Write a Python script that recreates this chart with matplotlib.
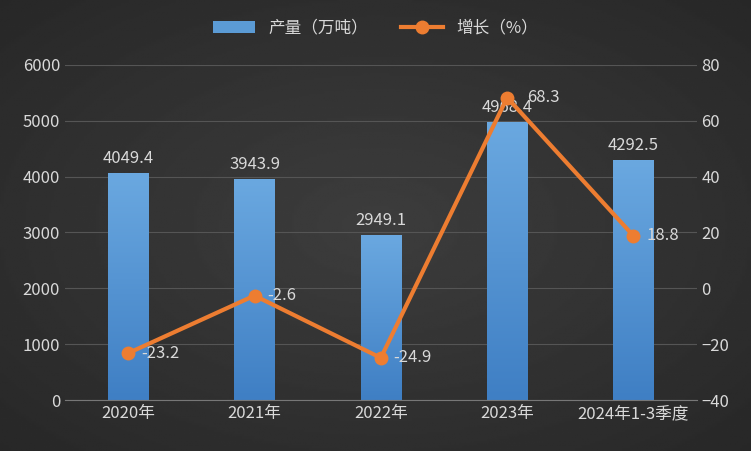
import matplotlib
matplotlib.use("Agg")
import matplotlib.pyplot as plt
import numpy as np

plt.rcParams['font.family'] = ['Noto Sans CJK SC', 'DejaVu Sans']

categories = ["2020年", "2021年", "2022年", "2023年", "2024年1-3季度"]
output = [4049.4, 3943.9, 2949.1, 4968.4, 4292.5]
growth = [-23.2, -2.6, -24.9, 68.3, 18.8]

txt = '#d9d9d9'
fig = plt.figure(figsize=(7.51, 4.51), dpi=100)
bg = fig.add_axes([0, 0, 1, 1], zorder=-10)
yy, xx = np.mgrid[-1:1:200j, -1:1:300j]
r = np.sqrt(xx**2 + yy**2)
bg.imshow(0.24 - 0.06 * r, cmap='gray', vmin=0, vmax=1, aspect='auto', extent=[0, 1, 0, 1])
bg.axis('off')

ax = fig.add_axes([0.0866, 0.113, 0.841, 0.743])
ax.patch.set_alpha(0)
x = np.arange(len(categories))
bars = ax.bar(x, output, width=0.32, color='#5b9bd5', label='产量（万吨）', zorder=2)
for b in bars:
    bx, bw, bh = b.get_x(), b.get_width(), b.get_height()
    grad = np.linspace(1, 0, 100).reshape(-1, 1)
    ax.imshow(grad, cmap=matplotlib.colors.LinearSegmentedColormap.from_list('g', ['#3f7fc4', '#6aa8e0']),
              extent=[bx, bx + bw, 0, bh], aspect='auto', zorder=2.1)
for xi, v in zip(x, output):
    ax.text(xi, v + 120, f"{v}", ha='center', va='bottom', color=txt, fontsize=12, zorder=5)
ax.set_xlim(-0.5, len(categories) - 0.5)
ax.set_ylim(0, 6000)
ax.set_yticks(range(0, 6001, 1000))
ax.set_xticks(x)
ax.set_xticklabels(categories)
ax.grid(axis='y', color='#555555', lw=0.8, zorder=0)
for s in ax.spines.values():
    s.set_visible(False)
ax.spines['bottom'].set_visible(True)
ax.spines['bottom'].set_color('#777777')
ax.tick_params(colors=txt, labelsize=12, length=0)

ax2 = ax.twinx()
ax2.plot(x, growth, color='#ed7d31', lw=3, marker='o', ms=9, label='增长（%）', zorder=4)
for xi, v in zip(x, growth):
    dx = 0.16 if v > 60 else 0.1
    ax2.text(xi + dx, v, f"{v}", ha='left', va='center', color=txt, fontsize=12, zorder=5)
ax2.set_ylim(-40, 80)
ax2.set_yticks(range(-40, 81, 20))
for s in ax2.spines.values():
    s.set_visible(False)
ax2.tick_params(colors=txt, labelsize=12, length=0)

h1, l1 = ax.get_legend_handles_labels()
h2, l2 = ax2.get_legend_handles_labels()
fig.legend(h1 + h2, l1 + l2, loc='upper center', bbox_to_anchor=(0.5, 0.99), ncol=2,
           frameon=False, labelcolor=txt, fontsize=12, handlelength=2.5)
fig.savefig('out.png', dpi=100)
